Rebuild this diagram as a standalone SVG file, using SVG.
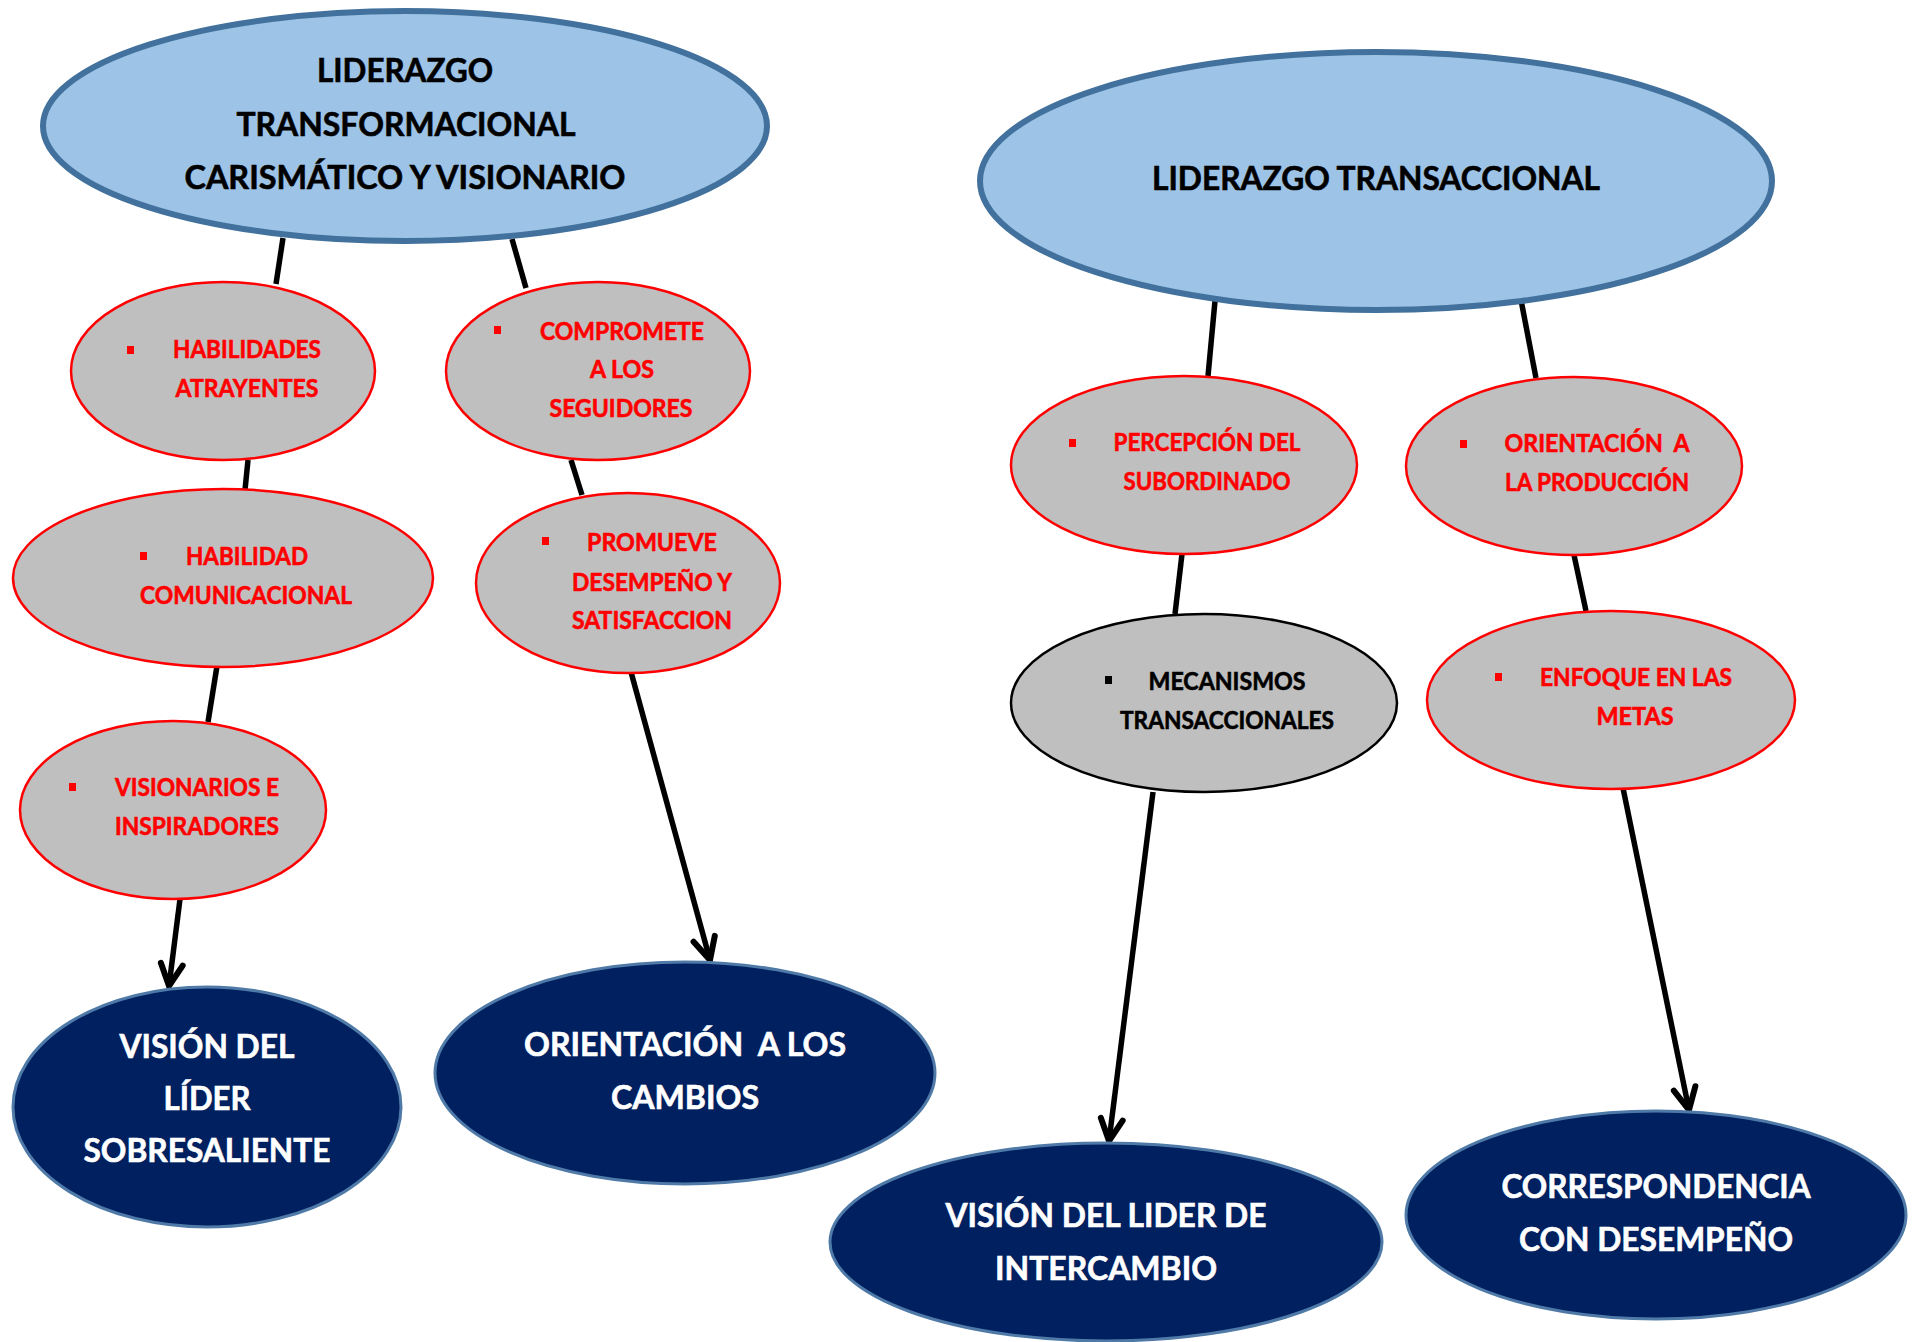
<svg xmlns="http://www.w3.org/2000/svg" width="1919" height="1342" viewBox="0 0 1919 1342">
  <style>
    text { font-family: Lato, "Open Sans", "Liberation Sans", sans-serif; font-weight: bold; text-anchor: middle; stroke-width: 0.6; }
    .root { fill: #9DC3E6; stroke: #41719C; stroke-width: 6; }
    .root-t { fill: #000000; stroke: #000000; font-size: 32px; }
    .sub { fill: #BFBFBF; stroke: #FF0000; stroke-width: 2.5; }
    .sub-k { fill: #BFBFBF; stroke: #000000; stroke-width: 2.5; }
    .sub-t { fill: #FF0000; stroke: #FF0000; font-size: 24px; }
    .sub-tk { fill: #000000; stroke: #000000; font-size: 24px; }
    .bul { fill: #FF0000; }
    .bul-k { fill: #000000; }
    .out { fill: #002060; stroke: #4F7AA8; stroke-width: 3; }
    .out-t { fill: #FFFFFF; stroke: #FFFFFF; font-size: 32px; }
    .link { stroke: #000000; stroke-width: 5.5; fill: none; }
  </style>
  <defs>
    <!-- open stick arrowhead -->
    <marker id="arrow" viewBox="0 0 30 30" refX="26" refY="15" markerWidth="30" markerHeight="30" markerUnits="userSpaceOnUse" orient="auto">
      <path d="M4,4 L26,15 L4,26" fill="none" stroke="#000000" stroke-width="6" stroke-linecap="round" stroke-linejoin="miter"/>
    </marker>
  </defs>

  <rect x="0" y="0" width="1919" height="1342" fill="#FFFFFF"/>

  <!-- connectors -->
  <g id="connectors">
    <line class="link" x1="283" y1="238" x2="276" y2="284"/>
    <line class="link" x1="512" y1="239" x2="526" y2="288"/>
    <line class="link" x1="248" y1="460" x2="245" y2="490"/>
    <line class="link" x1="217" y1="666" x2="208" y2="722"/>
    <line class="link" x1="180" y1="899" x2="169" y2="986" marker-end="url(#arrow)"/>
    <line class="link" x1="571" y1="460" x2="582" y2="495"/>
    <line class="link" x1="631" y1="672" x2="710" y2="960" marker-end="url(#arrow)"/>
    <line class="link" x1="1215" y1="301" x2="1208" y2="376"/>
    <line class="link" x1="1521" y1="300" x2="1536" y2="378"/>
    <line class="link" x1="1182" y1="554" x2="1175" y2="614"/>
    <line class="link" x1="1574" y1="555" x2="1586" y2="611"/>
    <line class="link" x1="1153" y1="792" x2="1109" y2="1141" marker-end="url(#arrow)"/>
    <line class="link" x1="1623" y1="788" x2="1689" y2="1110" marker-end="url(#arrow)"/>
  </g>

  <!-- top level -->
  <g id="n-transformacional">
    <ellipse class="root" cx="405" cy="126" rx="362" ry="115"/>
    <text class="root-t" x="405" y="82" textLength="176" lengthAdjust="spacingAndGlyphs">LIDERAZGO</text>
    <text class="root-t" x="406" y="136" textLength="339" lengthAdjust="spacingAndGlyphs">TRANSFORMACIONAL</text>
    <text class="root-t" x="405" y="189" textLength="441" lengthAdjust="spacingAndGlyphs">CARISMÁTICO Y VISIONARIO</text>
  </g>
  <g id="n-transaccional">
    <ellipse class="root" cx="1376" cy="181" rx="396" ry="129"/>
    <text class="root-t" x="1376" y="190" textLength="448" lengthAdjust="spacingAndGlyphs">LIDERAZGO TRANSACCIONAL</text>
  </g>

  <!-- transformational traits -->
  <g id="n-habilidades-atrayentes">
    <ellipse class="sub" cx="223" cy="371" rx="152" ry="89"/>
    <rect class="bul" x="127" y="346" width="7" height="8"/>
    <text class="sub-t" x="247" y="358" textLength="148" lengthAdjust="spacingAndGlyphs">HABILIDADES</text>
    <text class="sub-t" x="247" y="397" textLength="143" lengthAdjust="spacingAndGlyphs">ATRAYENTES</text>
  </g>
  <g id="n-compromete">
    <ellipse class="sub" cx="598" cy="371" rx="152" ry="89"/>
    <rect class="bul" x="494" y="326" width="7" height="8"/>
    <text class="sub-t" x="622" y="340" textLength="164" lengthAdjust="spacingAndGlyphs">COMPROMETE</text>
    <text class="sub-t" x="622" y="378" textLength="64" lengthAdjust="spacingAndGlyphs">A LOS</text>
    <text class="sub-t" x="621" y="417" textLength="143" lengthAdjust="spacingAndGlyphs">SEGUIDORES</text>
  </g>
  <g id="n-habilidad-comunicacional">
    <ellipse class="sub" cx="223" cy="578" rx="210" ry="89"/>
    <rect class="bul" x="140" y="552" width="7" height="8"/>
    <text class="sub-t" x="247" y="565" textLength="122" lengthAdjust="spacingAndGlyphs">HABILIDAD</text>
    <text class="sub-t" x="246" y="604" textLength="212" lengthAdjust="spacingAndGlyphs">COMUNICACIONAL</text>
  </g>
  <g id="n-promueve">
    <ellipse class="sub" cx="628" cy="583" rx="152" ry="90"/>
    <rect class="bul" x="542" y="537" width="7" height="8"/>
    <text class="sub-t" x="652" y="551" textLength="130" lengthAdjust="spacingAndGlyphs">PROMUEVE</text>
    <text class="sub-t" x="652" y="591" textLength="160" lengthAdjust="spacingAndGlyphs">DESEMPEÑO Y</text>
    <text class="sub-t" x="652" y="629" textLength="160" lengthAdjust="spacingAndGlyphs">SATISFACCION</text>
  </g>
  <g id="n-visionarios">
    <ellipse class="sub" cx="173" cy="810" rx="153" ry="89"/>
    <rect class="bul" x="69" y="783" width="7" height="8"/>
    <text class="sub-t" x="197" y="796" textLength="164" lengthAdjust="spacingAndGlyphs">VISIONARIOS E</text>
    <text class="sub-t" x="197" y="835" textLength="164" lengthAdjust="spacingAndGlyphs">INSPIRADORES</text>
  </g>

  <!-- transactional traits -->
  <g id="n-percepcion">
    <ellipse class="sub" cx="1184" cy="465" rx="173" ry="89"/>
    <rect class="bul" x="1069" y="439" width="7" height="8"/>
    <text class="sub-t" x="1207" y="451" textLength="187" lengthAdjust="spacingAndGlyphs">PERCEPCIÓN DEL</text>
    <text class="sub-t" x="1207" y="490" textLength="167" lengthAdjust="spacingAndGlyphs">SUBORDINADO</text>
  </g>
  <g id="n-orientacion-produccion">
    <ellipse class="sub" cx="1574" cy="466" rx="168" ry="89"/>
    <rect class="bul" x="1460" y="440" width="7" height="8"/>
    <text class="sub-t" x="1597" y="452" textLength="185" lengthAdjust="spacingAndGlyphs" xml:space="preserve">ORIENTACIÓN  A</text>
    <text class="sub-t" x="1597" y="491" textLength="184" lengthAdjust="spacingAndGlyphs">LA PRODUCCIÓN</text>
  </g>
  <g id="n-mecanismos">
    <ellipse class="sub-k" cx="1204" cy="703" rx="193" ry="89"/>
    <rect class="bul-k" x="1105" y="676" width="7" height="8"/>
    <text class="sub-tk" x="1227" y="690" textLength="157" lengthAdjust="spacingAndGlyphs">MECANISMOS</text>
    <text class="sub-tk" x="1227" y="729" textLength="214" lengthAdjust="spacingAndGlyphs">TRANSACCIONALES</text>
  </g>
  <g id="n-enfoque">
    <ellipse class="sub" cx="1611" cy="700" rx="184" ry="89"/>
    <rect class="bul" x="1495" y="673" width="7" height="8"/>
    <text class="sub-t" x="1636" y="686" textLength="192" lengthAdjust="spacingAndGlyphs">ENFOQUE EN LAS</text>
    <text class="sub-t" x="1635" y="725" textLength="77" lengthAdjust="spacingAndGlyphs">METAS</text>
  </g>

  <!-- outcomes -->
  <g id="n-vision-sobresaliente">
    <ellipse class="out" cx="207" cy="1107" rx="194" ry="120"/>
    <text class="out-t" x="207" y="1058" textLength="175" lengthAdjust="spacingAndGlyphs">VISIÓN DEL</text>
    <text class="out-t" x="207" y="1110" textLength="87" lengthAdjust="spacingAndGlyphs">LÍDER</text>
    <text class="out-t" x="207" y="1162" textLength="247" lengthAdjust="spacingAndGlyphs">SOBRESALIENTE</text>
  </g>
  <g id="n-orientacion-cambios">
    <ellipse class="out" cx="685" cy="1073" rx="250" ry="111"/>
    <text class="out-t" x="685" y="1056" textLength="322" lengthAdjust="spacingAndGlyphs" xml:space="preserve">ORIENTACIÓN  A LOS</text>
    <text class="out-t" x="685" y="1109" textLength="148" lengthAdjust="spacingAndGlyphs">CAMBIOS</text>
  </g>
  <g id="n-vision-intercambio">
    <ellipse class="out" cx="1106" cy="1242" rx="276" ry="99"/>
    <text class="out-t" x="1106" y="1227" textLength="321" lengthAdjust="spacingAndGlyphs">VISIÓN DEL LIDER DE</text>
    <text class="out-t" x="1106" y="1280" textLength="222" lengthAdjust="spacingAndGlyphs">INTERCAMBIO</text>
  </g>
  <g id="n-correspondencia">
    <ellipse class="out" cx="1656" cy="1215" rx="250" ry="104"/>
    <text class="out-t" x="1656" y="1198" textLength="309" lengthAdjust="spacingAndGlyphs">CORRESPONDENCIA</text>
    <text class="out-t" x="1656" y="1251" textLength="274" lengthAdjust="spacingAndGlyphs">CON DESEMPEÑO</text>
  </g>
</svg>
